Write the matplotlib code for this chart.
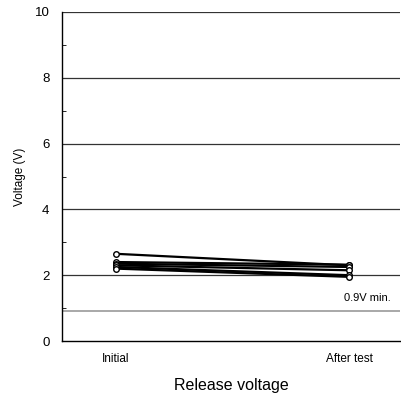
#!/usr/bin/env python3
import matplotlib
matplotlib.use("Agg")
import matplotlib.pyplot as plt

plt.rcParams["font.family"] = ["Liberation Sans", "DejaVu Sans"]

stages = ["Initial", "After test"]
initial = [2.65, 2.40, 2.35, 2.30, 2.25, 2.20]
after = [2.30, 2.32, 2.25, 2.15, 2.00, 1.95]
limit = 0.9

fig = plt.figure(figsize=(4.01, 4.03), dpi=100)
ax = fig.add_axes([62/401, 1 - 341/403, 338/401, 329/403])

for a, b in zip(initial, after):
	ax.plot([0, 1], [a, b], color="black", lw=1.6, marker="o", ms=4,
		mfc="white", mec="black", mew=1.0, zorder=3)

for y in [2, 4, 6, 8, 10]:
	ax.axhline(y, color="#333333", lw=0.9, zorder=1)
ax.axhline(limit, color="#999999", lw=1.2, zorder=1)
ax.text(1.18, limit + 0.25, "0.9V min.", fontsize=8, ha="right", va="bottom")

ax.set_xlim(-0.232, 1.219)
ax.set_ylim(0, 10)
ax.set_xticks([0, 1])
ax.set_xticklabels(stages, fontsize=8.5)
ax.set_yticks([0, 2, 4, 6, 8, 10])
ax.set_yticks([1, 3, 5, 7, 9], minor=True)
ax.tick_params(axis="y", which="major", length=0, labelsize=9.5, pad=9)
ax.tick_params(axis="y", which="minor", direction="in", length=3)
ax.tick_params(axis="x", length=0, pad=9)
ax.spines["top"].set_visible(False)
ax.spines["right"].set_visible(False)
ax.spines["left"].set_linewidth(1.0)
ax.spines["bottom"].set_linewidth(1.0)
ax.set_ylabel("Voltage (V)", fontsize=8.5, labelpad=6)
ax.set_xlabel("Release voltage", fontsize=11.5, labelpad=9)

fig.savefig("out.png", dpi=100)
